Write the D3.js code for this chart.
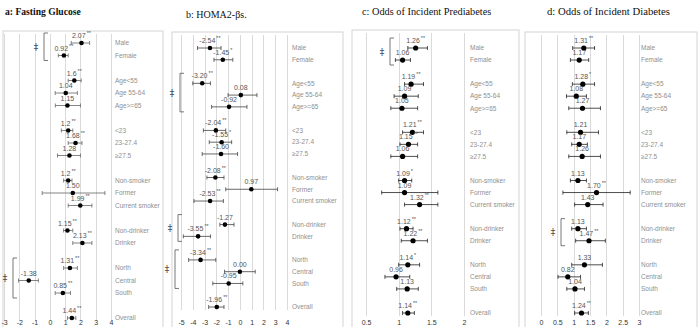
<!DOCTYPE html>
<html><head><meta charset="utf-8">
<script src="https://cdn.jsdelivr.net/npm/d3@7"></script>
<style>body{margin:0;background:#fff}svg{display:block}</style>
</head><body>
<script>
// ---------- DATA ----------
const groups = [
  ["Male","Female"],
  ["Age<55","Age 55-64","Age>=65"],
  ["<23","23-27.4","≥27.5"],
  ["Non-smoker","Former","Current smoker"],
  ["Non-drinker","Drinker"],
  ["North","Central","South"],
  ["Overall"]
];
const panelTitles = ["a: Fasting Glucose","b: HOMA2-βs.","c: Odds of Incident Prediabetes","d: Odds of Incident Diabetes"];

const glucoseEst   = [2.07,0.92,1.6,1.04,1.15,1.2,1.68,1.28,1.2,1.50,1.99,1.15,2.13,1.31,-1.38,0.85,1.44];
const glucoseLow   = [1.4,0.55,1.2,0.35,0.36,0.75,1.2,0.5,0.9,-0.5,1.2,0.9,1.5,0.9,-2.05,0.35,1.15];
const glucoseHigh  = [2.6,1.2,2.05,1.8,2.0,1.5,2.1,2.0,1.45,3.6,2.75,1.5,2.75,1.8,-0.75,1.35,1.7];
const glucoseLabel = ["2.07","0.92","1.6","1.04","1.15","1.2","1.68","1.28","1.2","1.50","1.99","1.15","2.13","1.31","-1.38","0.85","1.44"];
const glucoseStars = ["**","**","**","","","**","**","","**","","**","**","**","**","","**","**"];
const glucoseTicks = [-3,-2,-1,0,1,2,3,4];

const homaEst   = [-2.54,-1.45,-3.20,0.08,-0.92,-2.04,-1.55,-1.60,-2.08,0.97,-2.53,-1.27,-3.55,-3.34,0.00,-0.95,-1.96];
const homaLow   = [-3.6,-2.2,-4.0,-1.0,-2.4,-3.1,-2.6,-3.2,-2.8,-1.2,-3.9,-1.7,-4.8,-4.35,-1.3,-2.3,-2.65];
const homaHigh  = [-1.6,-0.6,-2.5,1.45,0.6,-1.2,-0.7,-0.2,-1.35,3.2,-1.4,-0.5,-2.5,-2.05,1.3,0.25,-1.35];
const homaLabel = ["-2.54","-1.45","-3.20","0.08","-0.92","-2.04","-1.55","-1.60","-2.08","0.97","-2.53","-1.27","-3.55","-3.34","0.00","-0.95","-1.96"];
const homaStars = ["**","*","**","","","**","*","","**","","**","","**","**","","","**"];
const homaTicks = [-5,-4,-3,-2,-1,0,1,2,3,4];

const preEst   = [1.26,1.06,1.19,1.09,1.05,1.21,1.15,1.06,1.09,1.09,1.32,1.12,1.22,1.14,0.96,1.13,1.14];
const preLow   = [1.14,0.95,1.09,0.93,0.88,1.06,1.02,0.88,1.0,0.74,1.09,1.02,1.04,1.0,0.79,0.97,1.06];
const preHigh  = [1.44,1.18,1.38,1.3,1.29,1.38,1.29,1.29,1.2,1.6,1.6,1.22,1.44,1.32,1.17,1.3,1.24];
const preLabel = ["1.26","1.06","1.19","1.09","1.05","1.21","1.15","1.06","1.09","1.09","1.32","1.12","1.22","1.14","0.96","1.13","1.14"];
const preStars = ["**","","**","","","**","**","","*","","**","**","**","*","","","**"];
const preTicks = [0.5,1,1.5,2];

const diaEst   = [1.31,1.17,1.28,1.08,1.27,1.21,1.17,1.26,1.13,1.70,1.43,1.13,1.47,1.33,0.82,1.04,1.24];
const diaLow   = [0.97,0.9,0.96,0.78,0.85,0.79,0.94,0.85,0.9,0.67,1.03,0.94,1.06,0.94,0.52,0.79,1.03];
const diaHigh  = [1.64,1.46,1.64,1.39,1.82,1.76,1.42,1.82,1.39,2.73,1.9,1.39,1.97,1.88,1.21,1.33,1.45];
const diaLabel = ["1.31","1.17","1.28","1.08","1.27","1.21","1.17","1.26","1.13","1.70","1.43","1.13","1.47","1.33","0.82","1.04","1.24"];
const diaStars = ["**","","*","","","","","","","**","","","**","","","","**"];
const diaTicks = [0,0.5,1,1.5,2,2.5,3];

// brackets: [fromCategory, toCategory]
const glucoseBrackets = [["Male","Female"],["North","South"]];
const homaBrackets = [["Age<55","Age>=65"],["Non-drinker","Drinker"],["North","South"]];
const preBrackets = [["Male","Female"]];
const diaBrackets = [["Non-drinker","Drinker"]];

// ---------- BUILD ROWS ----------
const categories = [];
const rowOf = {};
let r = 0;
groups.forEach(g => {
  g.forEach(c => { categories.push(c); rowOf[c] = r; r++; });
  r++; // gap row
});
const nRows = r - 2;

const W = 698, H = 327;
const svg = d3.select("body").append("svg").attr("width", W).attr("height", H)
  .style("font-family","'Liberation Sans','DejaVu Sans',sans-serif");

const panels = [
  {title:panelTitles[0], bold:true, fs:9.6, tx:5, ty:15, est:glucoseEst, lo:glucoseLow, hi:glucoseHigh, lab:glucoseLabel, st:glucoseStars, ticks:glucoseTicks,
   dom:[-3,4], xr:[4,111], yr:[43,318], frame:[3,31,163], labX:115, br:glucoseBrackets, brX:[44,13], r:2.3, ci:"#666"},
  {title:panelTitles[1], bold:false, fs:10, tx:186, ty:18, est:homaEst, lo:homaLow, hi:homaHigh, lab:homaLabel, st:homaStars, ticks:homaTicks,
   dom:[-5,4], xr:[181,287], yr:[48,307], frame:[172,32,343], labX:292, br:homaBrackets, brX:[180,178,175], r:2.3, ci:"#444"},
  {title:panelTitles[2], bold:false, fs:10.3, tx:362, ty:15, est:preEst, lo:preLow, hi:preHigh, lab:preLabel, st:preStars, ticks:preTicks,
   dom:[0.5,2], xr:[366,464], yr:[48,313], frame:[352,30,519], labX:470, br:preBrackets, brX:[390], r:2.6, ci:"#222"},
  {title:panelTitles[3], bold:false, fs:10.7, tx:547, ty:15, est:diaEst, lo:diaLow, hi:diaHigh, lab:diaLabel, st:diaStars, ticks:diaTicks,
   dom:[0,3], xr:[541,639], yr:[48,313], frame:[525,32,697], labX:641, br:diaBrackets, brX:[561], r:2.6, ci:"#222"}
];

panels.forEach(p => {
  const g = svg.append("g");
  const x = d3.scaleLinear().domain(p.dom).range(p.xr);
  const y = d3.scaleLinear().domain([0, nRows]).range(p.yr);

  g.append("text").attr("x", p.tx).attr("y", p.ty).text(p.title)
    .attr("font-family","'Liberation Serif','DejaVu Serif',serif")
    .attr("font-size", p.fs).attr("font-weight", p.bold ? "bold" : "normal").attr("fill","#111");

  g.append("rect").attr("x", p.frame[0]).attr("y", p.frame[1])
    .attr("width", p.frame[2]-p.frame[0]).attr("height", H - p.frame[1] + 5)
    .attr("fill","none").attr("stroke","#d4d4d4").attr("stroke-width",1);

  g.selectAll(".grid").data(p.ticks).enter().append("line")
    .attr("x1", d => Math.round(x(d))+0.5).attr("x2", d => Math.round(x(d))+0.5)
    .attr("y1", p.frame[1]+3).attr("y2", p.yr[1]+3)
    .attr("stroke","#dadada").attr("stroke-width",1);

  const ax = d3.axisBottom(x).tickValues(p.ticks).tickSize(0).tickFormat(d => String(d));
  const axg = g.append("g").attr("transform", `translate(0,${H-11})`).call(ax);
  axg.select(".domain").remove();
  axg.selectAll("text").attr("font-size", 7).attr("fill","#333").attr("dy","0.9em");

  const rows = categories.map((c,i) => ({c, row: rowOf[c], est:p.est[i], lo:p.lo[i], hi:p.hi[i], lab:p.lab[i], st:p.st[i]}));

  g.selectAll(".cat").data(rows).enter().append("text")
    .attr("x", p.labX).attr("y", d => y(d.row)).attr("dy","0.35em")
    .attr("font-size", 6.5).attr("fill","#8f8f8f").text(d => d.c);

  g.selectAll(".ci").data(rows).enter().append("line")
    .attr("x1", d => x(d.lo)).attr("x2", d => x(d.hi))
    .attr("y1", d => y(d.row)).attr("y2", d => y(d.row))
    .attr("stroke", p.ci).attr("stroke-width", 0.8);
  ["lo","hi"].forEach(k => {
    g.selectAll(".cap"+k).data(rows).enter().append("line")
      .attr("x1", d => x(d[k])).attr("x2", d => x(d[k]))
      .attr("y1", d => y(d.row)-2).attr("y2", d => y(d.row)+2)
      .attr("stroke", p.ci).attr("stroke-width", 0.8);
  });
  g.selectAll(".pt").data(rows).enter().append("circle")
    .attr("cx", d => x(d.est)).attr("cy", d => y(d.row)).attr("r", p.r).attr("fill","#000");

  const vl = g.selectAll(".vl").data(rows).enter().append("text")
    .attr("x", d => x(d.est)).attr("y", d => y(d.row) - 5)
    .attr("text-anchor","middle").attr("font-size", 7).attr("fill","#555");
  vl.append("tspan").text(d => d.lab);
  vl.append("tspan").text(d => d.st).attr("font-size",5.5).attr("dy", -3).attr("dx", 1);

  p.br.forEach((b, i) => {
    const bx = p.brX[i];
    const y0 = y(rowOf[b[0]]) - 10, y1 = y(rowOf[b[1]]) + 5;
    g.append("path").attr("d", `M${bx+4},${y0}H${bx}V${y1}H${bx+4}`)
      .attr("fill","none").attr("stroke","#555").attr("stroke-width",0.8);
    g.append("text").attr("x", bx - 8).attr("y", (y0+y1)/2).attr("dy","0.35em")
      .attr("text-anchor","middle").attr("font-size", 9)
      .attr("font-family","'DejaVu Serif',serif").attr("fill","#222").text("‡");
  });
});
</script>
</body></html>
